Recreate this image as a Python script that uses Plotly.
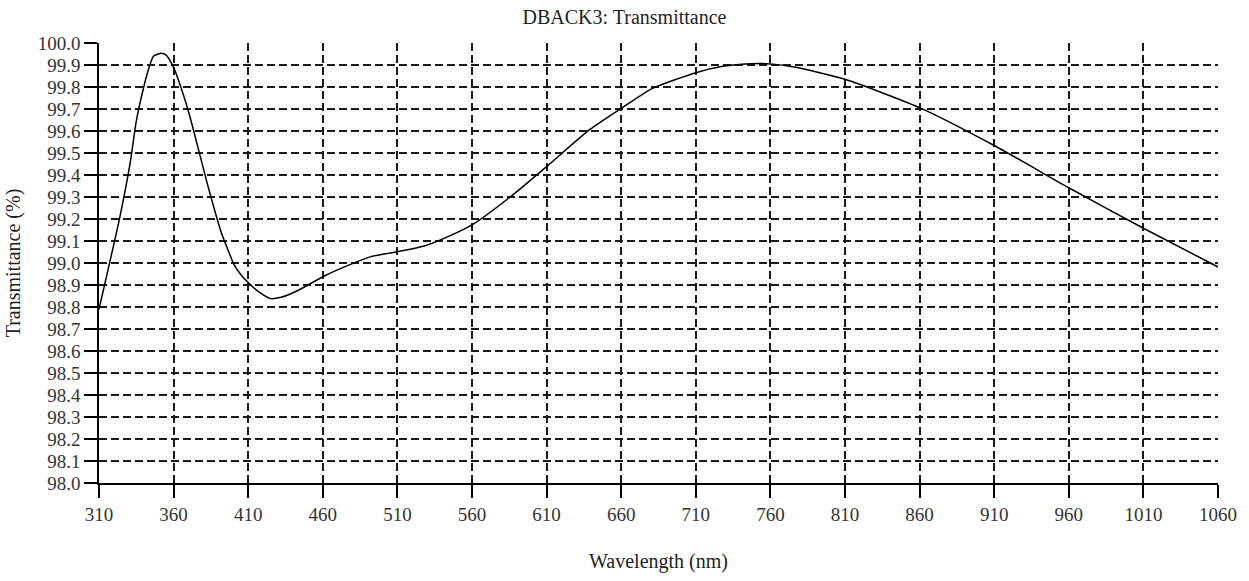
import plotly.graph_objects as go

# Data
wavelength_nm = [310, 324, 331, 335, 340, 343, 346.5, 352, 355, 360, 364.5, 369, 373.5, 378,
                 382.5, 387, 391.5, 396, 400.5, 405, 410, 416, 425, 432, 443, 461, 479, 493,
                 510, 528, 542, 560, 588, 610, 639, 660, 681, 710, 728, 743, 760, 776, 810,
                 861, 910, 960, 1010, 1060]
transmittance_pct = [98.79, 99.21, 99.46, 99.645, 99.80, 99.876, 99.940, 99.953, 99.945,
                     99.889, 99.807, 99.711, 99.60, 99.481, 99.363, 99.252, 99.148, 99.067,
                     98.993, 98.948, 98.911, 98.874, 98.838, 98.844, 98.874, 98.941, 98.995,
                     99.030, 99.051, 99.077, 99.114, 99.173, 99.313, 99.438, 99.607, 99.703,
                     99.794, 99.865, 99.894, 99.905, 99.905, 99.891, 99.835, 99.703, 99.534,
                     99.342, 99.158, 98.982]

x_ticks = list(range(310, 1061, 50))
y_ticks = [round(98.0 + 0.1 * i, 1) for i in range(21)]

title_text = "DBACK3: Transmittance"
x_title = "Wavelength (nm)"
y_title = "Transmittance (%)"

FONT = "Liberation Serif, Times New Roman, serif"

fig = go.Figure()
fig.add_trace(go.Scatter(
    x=wavelength_nm, y=transmittance_pct, mode="lines",
    line=dict(color="black", width=1.5, shape="spline", smoothing=0.6),
    showlegend=False, hoverinfo="x+y",
))

axis_common = dict(
    showgrid=True, gridcolor="#1a1a1a", gridwidth=1.5, griddash="8px,4px",
    showline=True, linecolor="black", linewidth=1.5,
    ticks="outside", ticklen=13, tickwidth=1.5, tickcolor="black",
    tickfont=dict(family=FONT, size=19, color="#333333"),
    zeroline=False,
)

fig.update_layout(
    width=1249, height=581,
    margin=dict(l=98, r=22, t=43, b=85),
    paper_bgcolor="white", plot_bgcolor="white",
    font=dict(family=FONT, color="#222222"),
    title=dict(text=title_text, x=0.5, xref="container", xanchor="center",
               y=1, yref="container", yanchor="top", pad=dict(t=10),
               font=dict(family=FONT, size=20, color="#222222")),
    xaxis=dict(range=[310, 1060], tickvals=x_ticks,
               ticktext=[str(v) for v in x_ticks],
               title=dict(text=x_title, standoff=30,
                          font=dict(family=FONT, size=20, color="#222222")),
               **axis_common),
    yaxis=dict(range=[98.0, 100.0], tickvals=y_ticks,
               ticktext=[f"{v:.1f}" for v in y_ticks],
               title=dict(text=y_title, standoff=12,
                          font=dict(family=FONT, size=20, color="#222222")),
               **axis_common),
)

fig.write_html("out.html")
